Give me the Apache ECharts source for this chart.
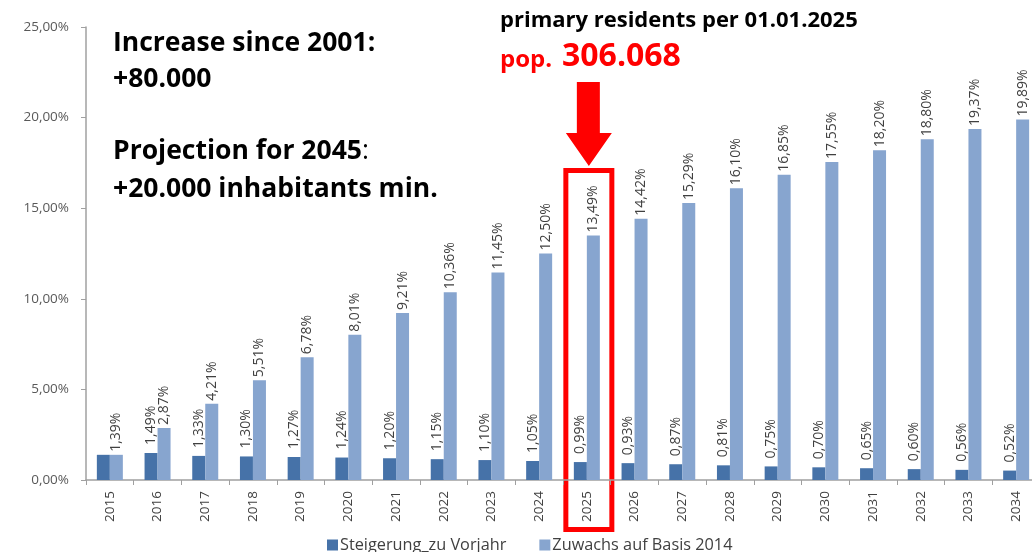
<!DOCTYPE html>
<html><head><meta charset="utf-8">
<script src="https://cdn.jsdelivr.net/npm/echarts@6/dist/echarts.min.js"></script>
<style>html,body{margin:0;padding:0;background:#fff;overflow:hidden;width:1032px;height:552px}#c{width:1060px;height:552px}</style>
</head><body><div id="c"></div>
<script>
const years = ['2015','2016','2017','2018','2019','2020','2021','2022','2023','2024','2025','2026','2027','2028','2029','2030','2031','2032','2033','2034'];
const steigerung = [1.39,1.49,1.33,1.30,1.27,1.24,1.20,1.15,1.10,1.05,0.99,0.93,0.87,0.81,0.75,0.70,0.65,0.60,0.56,0.52];
const zuwachs = [1.39,2.87,4.21,5.51,6.78,8.01,9.21,10.36,11.45,12.50,13.49,14.42,15.29,16.10,16.85,17.55,18.20,18.80,19.37,19.89];
const yTicks = [0,5,10,15,20,25];
const highlightYear = '2025';

const FONT = '"Open Sans", "Noto Sans", sans-serif';
const fmt = v => v.toFixed(2).replace('.', ',') + '%';
const labelCfg = d => ({
  show: true, position: 'top', rotate: 90, align: 'left', verticalAlign: 'middle',
  distance: d, fontFamily: FONT, fontSize: 14, color: '#404040',
  formatter: p => fmt(p.value)
});
const chart = echarts.init(document.getElementById('c'), null, {renderer: 'canvas'});
chart.setOption({
  animation: false,
  textStyle: {fontFamily: FONT},
  grid: {left: 86, top: 27, width: 954, height: 453, containLabel: false},
  legend: {
    bottom: -6, left: 322, itemWidth: 11, itemHeight: 11, itemGap: 33,
    icon: 'rect',
    textStyle: {fontFamily: FONT, fontSize: 16.3, color: '#404040', padding: [0, 0, 0, -3]},
    data: ['Steigerung_zu Vorjahr', 'Zuwachs auf Basis 2014']
  },
  xAxis: {
    type: 'category', data: years,
    axisLine: {lineStyle: {color: '#a0a0a0', width: 1.5}},
    axisTick: {show: true, length: 5, lineStyle: {color: '#a0a0a0'}},
    axisLabel: {rotate: 90, fontSize: 13.5, color: '#404040', margin: 11, fontFamily: FONT}
  },
  yAxis: {
    type: 'value', min: 0, max: 25, interval: 5,
    splitLine: {show: false},
    axisLine: {show: true, lineStyle: {color: '#a0a0a0', width: 1.5}},
    axisTick: {show: true, length: 5, lineStyle: {color: '#a0a0a0'}},
    axisLabel: {fontSize: 13.5, color: '#595959', margin: 17, fontFamily: FONT,
      formatter: v => yTicks.includes(v) ? v.toFixed(2).replace('.', ',') + '%' : ''}
  },
  series: [
    {name: 'Steigerung_zu Vorjahr', type: 'bar', barWidth: 13, barGap: '0%',
     itemStyle: {color: '#4672A8'},
     data: steigerung.map((v, i) => i === 0 ? {value: v, label: {show: false}} : v),
     label: labelCfg(8)},
    {name: 'Zuwachs auf Basis 2014', type: 'bar', barWidth: 13, barGap: '0%',
     itemStyle: {color: '#87A5CF'},
     data: zuwachs, label: labelCfg(3)}
  ]
});

const cx = chart.convertToPixel({xAxisIndex: 0}, highlightYear) + 2;
chart.setOption({
  graphic: [
    {type: 'text', left: 113, top: 30, style: {text: 'Increase since 2001:', font: 'bold 26.5px ' + FONT, fill: '#000'}},
    {type: 'text', left: 113, top: 66, style: {text: '+80.000', font: 'bold 26.5px ' + FONT, fill: '#000'}},
    {type: 'text', left: 113, top: 138, style: {rich: {b: {font: 'bold 26.5px ' + FONT, fill: '#000'}, n: {font: '26.5px ' + FONT, fill: '#000'}}, text: '{b|Projection for 2045}{n|:}'}},
    {type: 'text', left: 113, top: 176, style: {text: '+20.000 inhabitants min.', font: 'bold 26.5px ' + FONT, fill: '#000'}},
    {type: 'text', left: 500, top: 10, style: {text: 'primary residents per 01.01.2025', font: 'bold 22px ' + FONT, fill: '#000'}},
    {type: 'text', left: 500, top: 48, style: {text: 'pop.', font: 'bold 24px ' + FONT, fill: '#ff0000'}},
    {type: 'text', left: 562, top: 41, style: {text: '306.068', font: 'bold 32px ' + FONT, fill: '#ff0000'}},
    {type: 'polygon', shape: {points: [[cx - 12, 82], [cx + 11, 82], [cx + 11, 133], [cx + 23, 133], [cx, 166], [cx - 23, 133], [cx - 12, 133]]}, style: {fill: '#ff0000'}},
    {type: 'rect', shape: {x: cx - 23, y: 170.5, width: 46, height: 359}, style: {fill: 'none', stroke: '#ff0000', lineWidth: 5}}
  ]
});
</script></body></html>
